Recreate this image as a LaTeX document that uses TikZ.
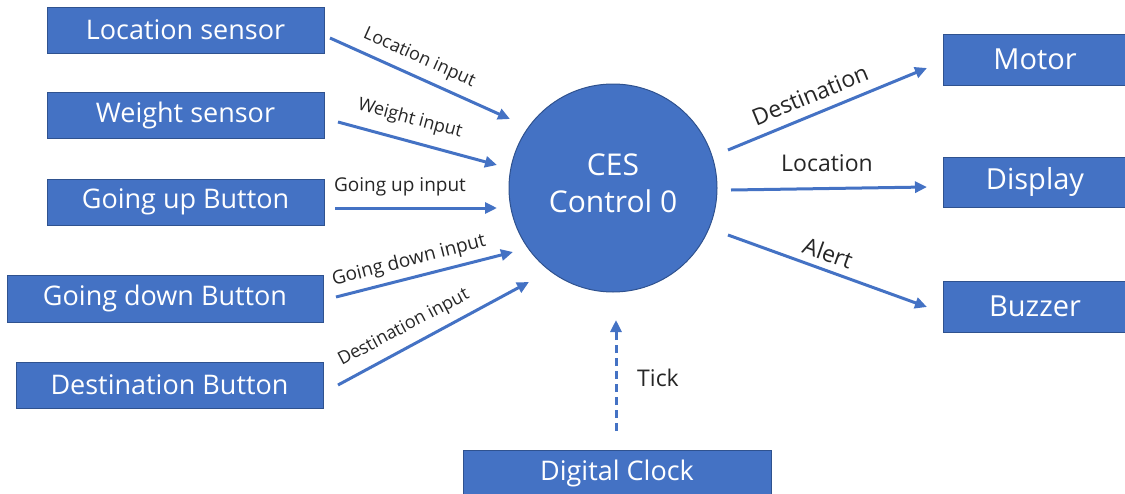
\documentclass[tikz,border=0pt]{standalone}
\usepackage{fontspec}
\setmainfont{Open Sans}
\usetikzlibrary{arrows.meta}
\definecolor{boxblue}{HTML}{4472C4}
\definecolor{boxedge}{HTML}{2F528F}
\definecolor{labelgray}{HTML}{262626}
\tikzset{
  unit/.style={draw=boxedge, line width=1pt, fill=boxblue, text=white,
    inner sep=0pt, font=\fontsize{27}{32}\selectfont},
  outunit/.style={unit, font=\fontsize{29}{34}\selectfont},
  core/.style={circle, draw=boxedge, line width=1pt, fill=boxblue,
    minimum size=208pt, inner sep=0pt},
  coretext/.style={text=white, inner sep=0pt, align=center,
    font=\fontsize{30}{37}\selectfont},
  flow/.style={draw=boxblue, line width=3pt, -{Triangle[length=12pt,width=11pt]}},
  tickflow/.style={flow, dash pattern=on 8pt off 5pt},
  inlabel/.style={text=labelgray, inner sep=0pt, font=\fontsize{18}{21}\selectfont},
  inlabelwide/.style={inlabel, font=\fontsize{19}{22}\selectfont},
  outlabel/.style={text=labelgray, inner sep=0pt, font=\fontsize{23}{26}\selectfont},
}
\begin{document}
\begin{tikzpicture}[x=1pt,y=-1pt]
\useasboundingbox (0,0) rectangle (1125,493);

% sensors and buttons
\node[unit, minimum width=277pt, minimum height=46pt] (loc)  at (185.5,30)  {Location sensor};
\node[unit, minimum width=277pt, minimum height=46pt] (wgt)  at (185.5,115) {Weight sensor};
\node[unit, minimum width=277pt, minimum height=46pt] (up)   at (185.5,202) {Going up Button};
\node[unit, minimum width=316pt, minimum height=47pt] (down) at (165,298.5) {Going down Button};
\node[unit, minimum width=307pt, minimum height=46pt] (dest) at (169.5,385) {Destination Button};

% controller
\node[core] (ces) at (613,188) {};
\node[coretext] (cestext) at ([yshift=5pt]ces.center) {CES\\Control 0};

% actuators
\node[outunit, minimum width=184pt, minimum height=51pt] (motor)   at (1035,59.5)  {Motor};
\node[outunit, minimum width=184pt, minimum height=50pt] (display) at (1035,182)   {Display};
\node[outunit, minimum width=184pt, minimum height=51pt] (buzzer)  at (1035,306.5) {Buzzer};

% clock
\node[unit, minimum width=308pt, minimum height=47pt] (clock) at (617,473.5) {Digital Clock};

% connector end points
\coordinate (locS) at (330,38);   \coordinate (locE) at (510,119);
\coordinate (wgtS) at (338,122);  \coordinate (wgtE) at (497,165);
\coordinate (upS)  at (335,208);  \coordinate (upE)  at (497,208);
\coordinate (dnS)  at (336,297);  \coordinate (dnE)  at (513,252);
\coordinate (dsS)  at (338,385);  \coordinate (dsE)  at (529,282);
\coordinate (moS)  at (728,150);  \coordinate (moE)  at (927,68);
\coordinate (diS)  at (731,190);  \coordinate (diE)  at (927,187);
\coordinate (buS)  at (728,235);  \coordinate (buE)  at (927,307);
\coordinate (ckS)  at (616,431);  \coordinate (ckE)  at (616,320);

% inputs
\draw[flow] (locS) -- (locE);
\draw[flow] (wgtS) -- (wgtE);
\draw[flow] (upS) -- (upE);
\draw[flow] (dnS) -- (dnE);
\draw[flow] (dsS) -- (dsE);

% outputs
\draw[flow] (moS) -- (moE);
\draw[flow] (diS) -- (diE);
\draw[flow] (buS) -- (buE);

% clock tick
\draw[tickflow] (ckS) -- (ckE);

% connector labels
\node[inlabel, rotate=-24.2]   (locL) at (419,58)  {Location input};
\node[inlabel, rotate=-15.1]   (wgtL) at (410,119) {Weight input};
\node[inlabelwide]             (upL)  at (400,187) {Going up input};
\node[inlabelwide, rotate=14.3](dnL)  at (409,261) {Going down input};
\node[inlabel, rotate=27.9]    (dsL)  at (404,328) {Destination input};
\node[outlabel, rotate=22.4]   (moL)  at (810,95)  {Destination};
\node[outlabel]                (diL)  at (827,163) {Location};
\node[outlabel, rotate=-19.9]  (buL)  at (828,253) {Alert};
\node[outlabel]                (ckL)  at (658,378) {Tick};
\end{tikzpicture}
\end{document}
